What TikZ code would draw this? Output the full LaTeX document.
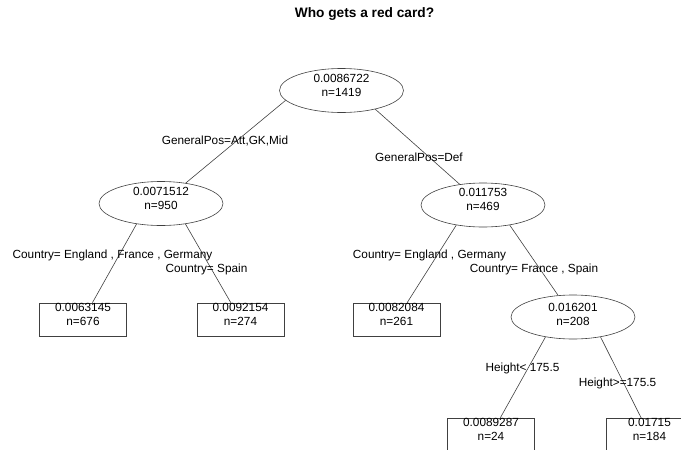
\documentclass[tikz,border=0pt]{standalone}
\usepackage{fontspec}
\setmainfont{Liberation Sans}
\usetikzlibrary{shapes.geometric}

\tikzset{
  split/.style={ellipse, draw=black!75, fill=white, line width=0.6pt,
    minimum width=124pt, minimum height=44pt, inner sep=0pt},
  leaf/.style={rectangle, draw=black!75, fill=white, line width=0.6pt,
    minimum width=87pt, minimum height=33pt, inner sep=0pt},
  val/.style={align=center, inner sep=0pt, font=\fontsize{11.8}{14}\selectfont},
  cond/.style={inner sep=0pt, font=\fontsize{11.8}{14}\selectfont},
  branch/.style={draw=black!75, line width=0.6pt}
}

\begin{document}
\begin{tikzpicture}[x=1pt, y=-1pt]
\clip (0,0) rectangle (681,450);
% title
    \node[font=\fontsize{13.7}{15}\selectfont\bfseries] (title) at (364.5,14) {Who gets a red card?};
% splits and leaves
    \node[split] (root) at (341.5,90.5) {};
    \node[split] (pos-a) at (161,203.5) {};
    \node[split] (pos-d) at (483,205) {};
    \node[split] (fr-sp) at (573,317) {};
    \node[leaf] (en-fr-ge) at (83,319.5) {};
    \node[leaf] (sp) at (240.5,319.5) {};
    \node[leaf] (en-ge) at (396.5,319.5) {};
    \node[leaf] (short) at (491,434.5) {};
    \node[leaf] (tall) at (649.5,434.5) {};
% branches
    \draw[branch] (root.190) -- (pos-a);
    \draw[branch] (root.331) -- (pos-d);
    \draw[branch] (pos-a.220) -- (en-fr-ge);
    \draw[branch] (pos-a.320) -- (sp);
    \draw[branch] (pos-d.217) -- (en-ge);
    \draw[branch] (pos-d.323) -- (fr-sp);
    \draw[branch] (fr-sp.216) -- (short);
    \draw[branch] (fr-sp.324) -- (tall);
% values
    \node[val] (root-v) at ([yshift=5.5pt]root.center) {0.0086722\\n=1419};
    \node[val] (pos-a-v) at ([yshift=5.5pt]pos-a.center) {0.0071512\\n=950};
    \node[val] (pos-d-v) at ([yshift=6pt]pos-d.center) {0.011753\\n=469};
    \node[val] (fr-sp-v) at ([yshift=3pt]fr-sp.center) {0.016201\\n=208};
    \node[val] (en-fr-ge-v) at ([yshift=5pt]en-fr-ge.center) {0.0063145\\n=676};
    \node[val] (sp-v) at ([yshift=5pt]sp.center) {0.0092154\\n=274};
    \node[val] (en-ge-v) at ([yshift=5pt]en-ge.center) {0.0082084\\n=261};
    \node[val] (short-v) at ([yshift=5pt]short.center) {0.0089287\\n=24};
    \node[val] (tall-v) at ([yshift=5pt]tall.center) {0.01715\\n=184};
% split conditions
    \node[cond] (c1) at (225,141) {GeneralPos=Att,GK,Mid};
    \node[cond] (c2) at (419,157) {GeneralPos=Def};
    \node[cond] (c3) at (112.5,255) {Country= England , France , Germany};
    \node[cond] (c4) at (206.5,269) {Country= Spain};
    \node[cond] (c5) at (429.5,255) {Country= England , Germany};
    \node[cond] (c6) at (534,269) {Country= France , Spain};
    \node[cond] (c7) at (522.5,368) {Height< 175.5};
    \node[cond] (c8) at (617.5,383) {Height>=175.5};
\end{tikzpicture}
\end{document}
